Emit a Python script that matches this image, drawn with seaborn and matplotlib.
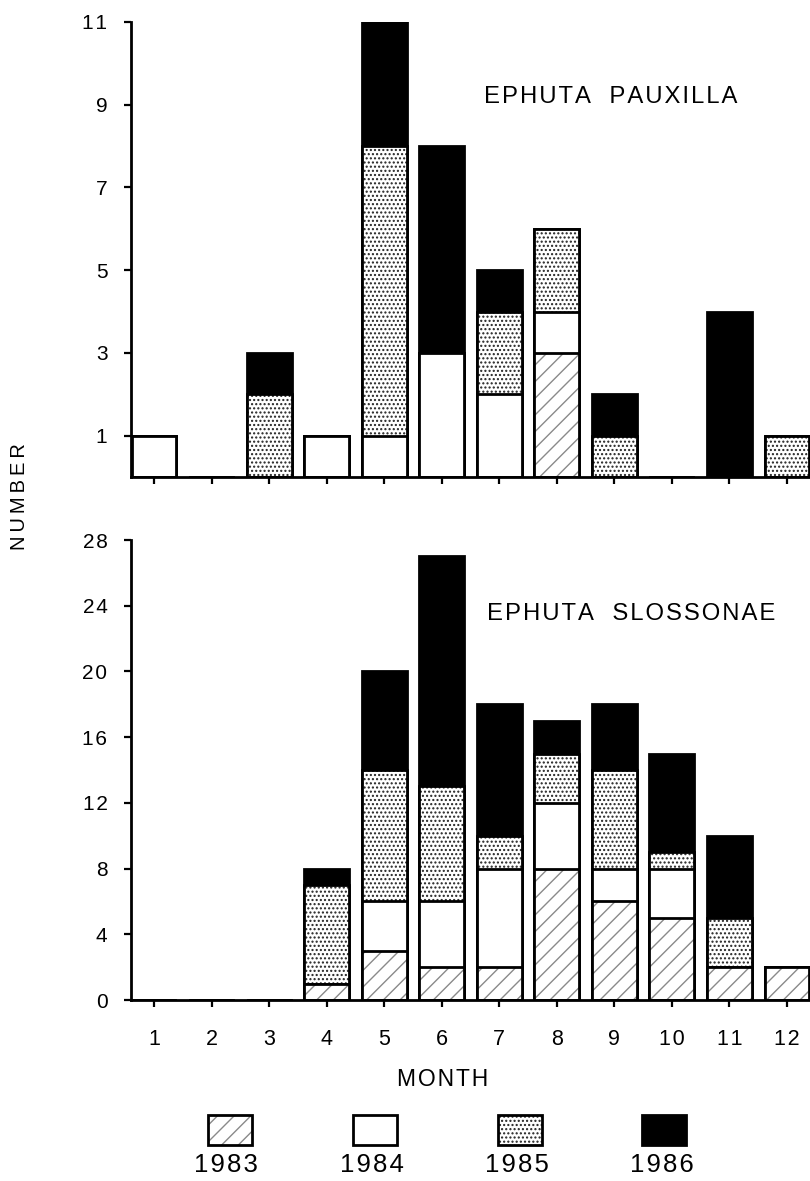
import numpy as np
import pandas as pd
import seaborn as sns
import matplotlib
matplotlib.use("Agg")
import matplotlib.pyplot as plt
from matplotlib.patches import Rectangle

sns.set_theme(style="white")
plt.rcParams['font.family'] = ['Liberation Sans', 'DejaVu Sans']
plt.rcParams['hatch.linewidth'] = 1.0
plt.rcParams['text.color'] = 'black'
plt.rcParams['axes.labelcolor'] = 'black'

months = list(range(1, 13))
years = ["1983", "1984", "1985", "1986"]

# Ephuta pauxilla (counts per month, per year)
pau_1983 = [0, 0, 0, 0, 0, 0, 0, 3, 0, 0, 0, 0]
pau_1984 = [1, 0, 0, 1, 1, 3, 2, 1, 0, 0, 0, 0]
pau_1985 = [0, 0, 2, 0, 7, 0, 2, 2, 1, 0, 0, 1]
pau_1986 = [0, 0, 1, 0, 3, 5, 1, 0, 1, 0, 4, 0]

# Ephuta slossonae
slo_1983 = [0, 0, 0, 1, 3, 2, 2, 8, 6, 5, 2, 2]
slo_1984 = [0, 0, 0, 0, 3, 4, 6, 4, 2, 3, 0, 0]
slo_1985 = [0, 0, 0, 6, 8, 7, 2, 3, 6, 1, 3, 0]
slo_1986 = [0, 0, 0, 1, 6, 14, 8, 2, 4, 6, 5, 0]

pau_ticks = [1, 3, 5, 7, 9, 11]
slo_ticks = [0, 4, 8, 12, 16, 20, 24, 28]

styles = {
    "1983": dict(face="white", hatch="//", hcol="#8a8a8a"),
    "1984": dict(face="white", hatch=None, hcol=None),
    "1985": dict(face="white", hatch="....", hcol="#222222"),
    "1986": dict(face="black", hatch=None, hcol=None),
}

HS = "\u200a"   # hair space for letter tracking
TS = "\u2009"   # thin space
def tracked(s, sp=HS):
    return sp.join(list(s))

W, H = 810, 1181
fig = plt.figure(figsize=(W / 100, H / 100), dpi=100)
fig.patch.set_facecolor("white")

def axes_px(left, top, right, bottom):
    return fig.add_axes([left / W, 1 - bottom / H, (right - left) / W, (bottom - top) / H])

ax1 = axes_px(131, 22, 810, 477)
ax2 = axes_px(131, 540, 810, 1000)

BW = 0.78
EW = 2.0

def stacked(ax, series):
    df = pd.DataFrame({"month": months})
    cum = np.zeros(12)
    cums = []
    for y, s in zip(years, series):
        cum = cum + np.array(s)
        cums.append(cum.copy())
    # draw from top layer down so lower layers cover upper bars
    for y, c in reversed(list(zip(years, cums))):
        st = styles[y]
        df["v"] = c
        if st["hatch"]:
            n0 = len(ax.patches)
            sns.barplot(data=df, x="month", y="v", order=months, ax=ax,
                        color=st["face"], width=BW, linewidth=0,
                        errorbar=None, saturation=1)
            for p in ax.patches[n0:]:
                p.set_facecolor("white")
                p.set_edgecolor(st["hcol"])
                p.set_hatch(st["hatch"])
                p.set_linewidth(0)
            n0 = len(ax.patches)
            sns.barplot(data=df, x="month", y="v", order=months, ax=ax,
                        width=BW, errorbar=None, saturation=1,
                        fill=False, color="black", linewidth=EW)
            for p in ax.patches[n0:]:
                p.set_edgecolor("black")
                p.set_facecolor("none")
                p.set_linewidth(EW)
        else:
            n0 = len(ax.patches)
            sns.barplot(data=df, x="month", y="v", order=months, ax=ax,
                        color=st["face"], width=BW, errorbar=None,
                        saturation=1, edgecolor="black", linewidth=EW)
            for p in ax.patches[n0:]:
                p.set_facecolor(st["face"])
                p.set_edgecolor("black")
                p.set_linewidth(EW)

stacked(ax1, [pau_1983, pau_1984, pau_1985, pau_1986])
stacked(ax2, [slo_1983, slo_1984, slo_1985, slo_1986])

for ax in (ax1, ax2):
    ax.set_facecolor("white")
    ax.set_xlim(-0.4, 11.4)
    for side in ("top", "right"):
        ax.spines[side].set_visible(False)
    for side in ("left", "bottom"):
        ax.spines[side].set_color("black")
        ax.spines[side].set_linewidth(2.0)
    ax.set_xlabel("")
    ax.set_ylabel("")
    ax.grid(False)

ax1.set_ylim(0, 11)
ax1.set_yticks(pau_ticks)
ax1.set_yticklabels([tracked(str(v)) for v in pau_ticks])
ax1.set_xticks(range(12))
ax1.set_xticklabels([])

ax2.set_ylim(0, 28)
ax2.set_yticks(slo_ticks)
ax2.set_yticklabels([tracked(str(v)) for v in slo_ticks])
ax2.set_xticks(range(12))
ax2.set_xticklabels([tracked(str(m)) for m in months])

for ax in (ax1, ax2):
    ax.tick_params(axis="both", direction="out", length=5, width=1.6,
                   color="black", labelcolor="black",
                   bottom=True, left=True)
    ax.tick_params(axis="y", pad=12, labelsize=15)
    ax.tick_params(axis="x", pad=16, labelsize=15.5)

ax1.text((611 - 131) / 679, (477 - 97) / 455,
         tracked("EPHUTA") + "   " + tracked("PAUXILLA"),
         transform=ax1.transAxes, ha="center", va="center", fontsize=17.2,
         color="black")
ax2.text((631 - 131) / 679, (1000 - 614) / 460,
         tracked("EPHUTA") + "   " + tracked("SLOSSONAE"),
         transform=ax2.transAxes, ha="center", va="center", fontsize=17.2,
         color="black")

fig.text(20 / W, 1 - 497 / H, tracked("NUMBER", TS), rotation=90, ha="center",
         va="center", fontsize=14.5, color="black")
fig.text(443 / W, 1 - 1080 / H, tracked("MONTH"), ha="center", va="center",
         fontsize=16.5, color="black")

# legend
lax = axes_px(150, 1100, 760, 1181)
lax.set_xlim(150, 760)
lax.set_ylim(1181, 1100)
lax.axis("off")
patch_x = [230, 375, 520, 664]
label_x = [226, 372, 517, 662]
for y, px, lx in zip(years, patch_x, label_x):
    st = styles[y]
    if st["hatch"]:
        lax.add_patch(Rectangle((px - 22, 1115), 44, 30, facecolor="white",
                                edgecolor=st["hcol"], hatch=st["hatch"], linewidth=0))
        lax.add_patch(Rectangle((px - 22, 1115), 44, 30, facecolor="none",
                                edgecolor="black", linewidth=EW))
    else:
        lax.add_patch(Rectangle((px - 22, 1115), 44, 30, facecolor=st["face"],
                                edgecolor="black", linewidth=EW))
    lax.text(lx, 1165, tracked(y), ha="center", va="center", fontsize=18.5,
             color="black")

fig.savefig("out.png", dpi=100, facecolor="white")
